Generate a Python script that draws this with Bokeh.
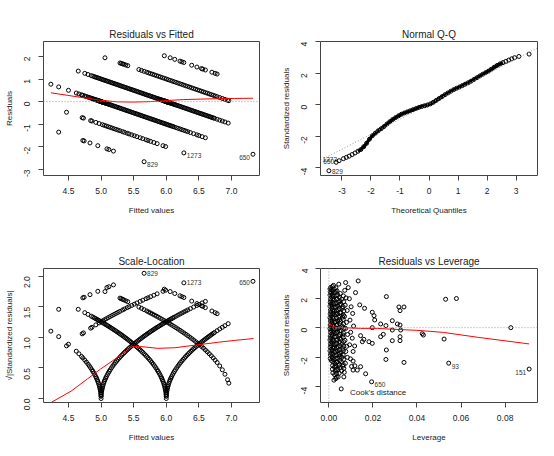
import math
from bokeh.plotting import figure
from bokeh.layouts import column, row
from bokeh.models import Range1d, FixedTicker, NumeralTickFormatter, Span, Slope, Legend, LegendItem
from bokeh.core.properties import value
from bokeh.embed import file_html
from bokeh.resources import INLINE

FONT = "Liberation Sans"

# ---------------- data ----------------
resid_se = 0.635  # residual standard error

# fitted values of the observations, grouped by observed quality
fit_q3 = [4.35, 4.72, 4.74, 4.83, 4.95, 5.09, 5.12, 5.19, 5.66]
fit_q4 = [4.47, 4.71, 4.73, 4.84, 4.86, 4.92, 4.97, 5.02, 5.05, 5.08, 5.11, 5.14, 5.17, 5.20,
          5.23, 5.26, 5.29, 5.33, 5.36, 5.40, 5.43, 5.47, 5.51, 5.55, 5.60, 5.64, 5.69, 5.72,
          5.76, 5.81, 5.86, 5.95, 5.99, 6.27]
fit_q5 = [4.23, 4.35, 4.50, 4.62, 4.66, 4.70, 4.72,
          4.75, 4.775, 4.80, 4.82, 4.84, 4.86, 4.875, 4.89, 4.905, 4.92, 4.93, 4.94, 4.95, 4.96,
          4.968, 4.975, 4.981, 4.986, 4.99, 4.994, 4.997, 4.999, 5.0, 5.001, 5.003, 5.006, 5.01,
          5.014, 5.019, 5.025, 5.032, 5.04, 5.05, 5.06, 5.07, 5.08, 5.095, 5.11, 5.125, 5.14,
          5.16, 5.18, 5.20, 5.22, 5.24, 5.26, 5.28, 5.30, 5.32, 5.34, 5.36, 5.38, 5.40, 5.42,
          5.44, 5.46, 5.48, 5.50, 5.52, 5.54, 5.56, 5.58, 5.60, 5.62, 5.64, 5.66, 5.68, 5.70,
          5.72, 5.74, 5.76, 5.78, 5.80, 5.82, 5.84, 5.86, 5.88, 5.90, 5.92, 5.94, 5.96, 5.98,
          6.00, 6.02, 6.04, 6.06, 6.08, 6.10, 6.12, 6.15, 6.18, 6.21, 6.24, 6.27, 6.30, 6.33,
          6.37, 6.42, 6.47, 6.50, 6.55, 6.60, 7.33]
fit_q6 = [4.65, 4.75, 4.80,
          4.85, 4.875, 4.90, 4.92, 4.94, 4.96, 4.98, 5.00, 5.02, 5.04, 5.06, 5.08, 5.10, 5.12,
          5.14, 5.16, 5.18, 5.20, 5.22, 5.24, 5.26, 5.28, 5.30, 5.32, 5.34, 5.36, 5.38, 5.40,
          5.42, 5.44, 5.46, 5.48, 5.50, 5.52, 5.54, 5.56, 5.58, 5.60, 5.62, 5.64, 5.66, 5.68,
          5.70, 5.72, 5.74, 5.76, 5.78, 5.80, 5.82, 5.84, 5.86, 5.875, 5.89, 5.905, 5.92, 5.93,
          5.94, 5.95, 5.96, 5.968, 5.975, 5.981, 5.986, 5.99, 5.994, 5.997, 5.999, 6.0, 6.001,
          6.003, 6.006, 6.01, 6.014, 6.019, 6.025, 6.032, 6.04, 6.05, 6.06, 6.07, 6.08, 6.095,
          6.11, 6.125, 6.14, 6.16, 6.18, 6.20, 6.22, 6.24, 6.26, 6.28, 6.30, 6.32, 6.34, 6.36,
          6.38, 6.40, 6.42, 6.44, 6.46, 6.48, 6.50, 6.52, 6.54, 6.56, 6.58, 6.60, 6.62, 6.64,
          6.66, 6.68, 6.70, 6.72, 6.74,
          6.78, 6.82, 6.86, 6.90, 6.95]
fit_q7 = [5.06, 5.29, 5.31, 5.33, 5.35, 5.38, 5.41, 5.58, 5.62, 5.66, 5.70, 5.73, 5.76, 5.79,
          5.82, 5.85, 5.88, 5.91, 5.94, 5.97, 6.00, 6.03, 6.06, 6.09, 6.12, 6.15, 6.18, 6.21,
          6.24, 6.27, 6.30, 6.33, 6.36, 6.39, 6.42, 6.45, 6.48, 6.51, 6.54, 6.57, 6.60, 6.63,
          6.66, 6.69, 6.72, 6.75, 6.78, 6.82, 6.86, 6.90, 6.94, 6.96]
fit_q8 = [5.97, 6.06, 6.13, 6.21, 6.24, 6.27, 6.39, 6.47, 6.54, 6.56, 6.60, 6.70, 6.75, 6.78]
quality_groups = [(3, fit_q3), (4, fit_q4), (5, fit_q5), (6, fit_q6), (7, fit_q7), (8, fit_q8)]

# labelled observations (residuals vs fitted / scale-location)
id_labels = ["829", "1273", "650"]
id_fit = [5.66, 6.27, 7.33]
id_quality = [3, 4, 5]

# smoother lines
smooth_rf_x = [4.23, 4.48, 4.73, 4.99, 5.25, 5.50, 5.76, 6.01, 6.27, 6.53, 6.78, 7.05, 7.33]
smooth_rf_y = [0.39, 0.28, 0.17, 0.06, -0.01, -0.02, 0.00, 0.05, 0.09, 0.11, 0.13, 0.14, 0.15]
smooth_sl_x = [4.24, 4.54, 4.79, 4.99, 5.25, 5.48, 5.60, 5.87, 6.13, 6.50, 6.80, 7.05, 7.34]
smooth_sl_y = [-0.06, 0.12, 0.32, 0.48, 0.67, 0.85, 0.85, 0.82, 0.83, 0.88, 0.92, 0.95, 0.98]

# Normal Q-Q
qq_theo = [-3.45, -3.2, -3.1, -2.95, -2.85, -2.75, -2.65, -2.55, -2.45, -2.35, -2.25, -2.15,
           -2.05, -1.95, -1.85, -1.75, -1.65, -1.55, -1.45, -1.35, -1.25, -1.15, -1.05, -0.95,
           -0.85, -0.75, -0.65, -0.55, -0.45, -0.35, -0.25, -0.15, -0.05, 0.05, 0.15, 0.25,
           0.35, 0.45, 0.55, 0.65, 0.75, 0.85, 0.95, 1.05, 1.15, 1.25, 1.35, 1.45, 1.55, 1.65,
           1.75, 1.85, 1.95, 2.05, 2.15, 2.25, 2.35, 2.45, 2.55, 2.65, 2.75, 2.85, 2.95, 3.1, 3.45]
qq_std = [-4.19, -3.65, -3.55, -3.42, -3.34, -3.26, -3.16, -3.06, -2.95, -2.84, -2.66, -2.44,
          -2.18, -1.96, -1.80, -1.65, -1.52, -1.38, -1.22, -1.07, -0.93, -0.81, -0.70, -0.60,
          -0.52, -0.45, -0.38, -0.31, -0.24, -0.17, -0.11, -0.06, -0.01, 0.06, 0.16, 0.28,
          0.40, 0.52, 0.64, 0.75, 0.86, 0.96, 1.05, 1.13, 1.22, 1.31, 1.40, 1.50, 1.61, 1.72,
          1.83, 1.94, 2.04, 2.14, 2.26, 2.39, 2.50, 2.60, 2.68, 2.76, 2.84, 2.92, 2.99, 3.07, 3.22]
qq_line_slope = 0.955
qq_line_intercept = 0.045
qq_id_labels_right = ["829"]
qq_id_right_x = [-3.45]
qq_id_right_y = [-4.19]
qq_id_labels_left = ["650", "1273"]
qq_id_left_x = [-3.2, -3.1]
qq_id_left_y = [-3.65, -3.55]

# Residuals vs Leverage: (leverage, standardized residual)
lev_points = [
    (0.0008, 2.72), (0.0011, 2.55), (0.0009, 2.33), (0.0012, 2.08), (0.0008, 1.82), (0.0010, 1.57),
    (0.0013, 1.31), (0.0009, 1.06), (0.0011, 0.81), (0.0008, 0.56), (0.0012, 0.31), (0.0010, 0.06),
    (0.0009, -0.19), (0.0013, -0.44), (0.0008, -0.70), (0.0011, -0.96), (0.0009, -1.21), (0.0012, -1.46),
    (0.0010, -1.72), (0.0014, -1.97), (0.0011, -2.22),
    (0.0021, 2.86), (0.0024, 2.62), (0.0027, 2.37), (0.0020, 2.12), (0.0025, 1.86), (0.0022, 1.61),
    (0.0028, 1.36), (0.0023, 1.12), (0.0026, 0.86), (0.0021, 0.61), (0.0027, 0.36), (0.0024, 0.11),
    (0.0022, -0.14), (0.0028, -0.39), (0.0025, -0.64), (0.0021, -0.90), (0.0026, -1.15), (0.0023, -1.40),
    (0.0028, -1.66), (0.0024, -1.91), (0.0022, -2.16), (0.0027, -2.41), (0.0025, -2.67), (0.0029, -2.92),
    (0.0026, -3.18), (0.0031, -3.45),
    (0.0037, 2.48), (0.0041, 2.21), (0.0036, 1.96), (0.0044, 1.71), (0.0039, 1.45), (0.0042, 1.20),
    (0.0037, 0.95), (0.0045, 0.70), (0.0040, 0.45), (0.0036, 0.20), (0.0043, -0.05), (0.0038, -0.30),
    (0.0045, -0.56), (0.0040, -0.81), (0.0036, -1.06), (0.0043, -1.31), (0.0039, -1.56), (0.0046, -1.82),
    (0.0041, -2.07), (0.0037, -2.32), (0.0044, -2.57), (0.0040, -2.83), (0.0047, -3.08), (0.0042, -3.34),
    (0.0052, 2.31), (0.0058, 1.92), (0.0054, 1.61), (0.0061, 1.30), (0.0055, 1.00), (0.0063, 0.71),
    (0.0053, 0.41), (0.0060, 0.10), (0.0056, -0.21), (0.0064, -0.50), (0.0054, -0.80), (0.0059, -1.10),
    (0.0062, -1.41), (0.0055, -1.70), (0.0060, -2.01), (0.0057, -2.31), (0.0063, -2.61), (0.0058, -2.92),
    (0.0072, 2.52), (0.0078, 2.01), (0.0074, 1.52), (0.0083, 1.16), (0.0071, 0.76), (0.0080, 0.36),
    (0.0076, -0.05), (0.0085, -0.46), (0.0073, -0.86), (0.0081, -1.26), (0.0077, -1.61), (0.0084, -2.01),
    (0.0075, -2.41), (0.0070, -3.02),
    (0.0093, 1.96), (0.0101, 1.41), (0.0108, 0.96), (0.0096, 0.51), (0.0112, 0.11), (0.0099, -0.31),
    (0.0106, -0.71), (0.0094, -1.16), (0.0110, -1.61), (0.0098, -2.11), (0.0103, -2.62),
    (0.0133, 3.16), (0.0076, 3.05), (0.0045, 2.94), (0.0088, 2.71), (0.0121, 2.37), (0.0261, 2.10),
    (0.0530, 1.92), (0.0579, 1.97), (0.0140, 1.54), (0.0162, 1.31), (0.0318, 1.40), (0.0341, 1.40),
    (0.0323, 1.15), (0.0197, 1.04), (0.0205, 0.81), (0.0208, 0.52), (0.0235, 0.25), (0.0288, 0.47),
    (0.0311, 0.25), (0.0323, 0.18), (0.0259, 0.14), (0.0197, 0.00), (0.0826, 0.00), (0.0288, -0.16),
    (0.0326, -0.16), (0.0424, -0.41), (0.0429, -0.50), (0.0235, -0.61), (0.0247, -0.45), (0.0288, -0.88),
    (0.0323, -0.61), (0.0323, -0.88), (0.0523, -0.77), (0.0144, -0.54), (0.0159, -0.79), (0.0152, -0.95),
    (0.0182, -0.95), (0.0197, -1.06), (0.0117, -1.24), (0.0261, -1.51), (0.0259, -2.15), (0.0341, -2.35),
    (0.0544, -2.40), (0.0909, -2.80), (0.0110, -2.26), (0.0118, -2.58), (0.0110, -2.87), (0.0129, -2.87),
    (0.0144, -2.64), (0.0167, -3.12), (0.0194, -3.66), (0.0068, -3.33), (0.0056, -4.14), (0.0023, -3.55),
]
# the dense core of the cloud near zero leverage
lev_core = [
    (0.0005, 2.62), (0.0006, 2.44), (0.0005, 2.20), (0.0007, 1.95), (0.0006, 1.70), (0.0005, 1.45),
    (0.0007, 1.18), (0.0006, 0.93), (0.0005, 0.68), (0.0007, 0.43), (0.0006, 0.18), (0.0005, -0.07),
    (0.0007, -0.32), (0.0006, -0.57), (0.0005, -0.83), (0.0007, -1.08), (0.0006, -1.33), (0.0005, -1.58),
    (0.0007, -1.84), (0.0006, -2.09),
    (0.0016, 2.78), (0.0017, 2.48), (0.0015, 2.20), (0.0018, 1.96), (0.0016, 1.70), (0.0015, 1.44),
    (0.0017, 1.19), (0.0018, 0.94), (0.0016, 0.69), (0.0015, 0.44), (0.0017, 0.19), (0.0016, -0.06),
    (0.0018, -0.31), (0.0015, -0.56), (0.0017, -0.81), (0.0016, -1.06), (0.0018, -1.31), (0.0015, -1.56),
    (0.0017, -1.81), (0.0016, -2.06), (0.0018, -2.31), (0.0017, -2.56), (0.0016, -2.81), (0.0018, -3.06),
    (0.0032, 2.70), (0.0031, 2.43), (0.0033, 2.17), (0.0034, 1.92), (0.0032, 1.66), (0.0031, 1.41),
    (0.0033, 1.16), (0.0032, 0.91), (0.0034, 0.66), (0.0031, 0.41), (0.0033, 0.16), (0.0032, -0.09),
    (0.0034, -0.34), (0.0031, -0.59), (0.0033, -0.84), (0.0032, -1.09), (0.0034, -1.34), (0.0031, -1.59),
    (0.0033, -1.84), (0.0032, -2.09), (0.0034, -2.34), (0.0031, -2.59), (0.0033, -2.84), (0.0035, -3.10),
    (0.0034, -3.35),
    (0.0048, 2.05), (0.0050, 1.80), (0.0049, 1.55), (0.0048, 1.28), (0.0050, 1.03), (0.0049, 0.78),
    (0.0048, 0.53), (0.0050, 0.28), (0.0049, 0.03), (0.0048, -0.22), (0.0050, -0.47), (0.0049, -0.72),
    (0.0048, -0.97), (0.0050, -1.22), (0.0049, -1.47), (0.0048, -1.72), (0.0050, -1.97), (0.0049, -2.22),
    (0.0048, -2.47), (0.0050, -2.72),
    (0.0066, 2.15), (0.0067, 1.75), (0.0065, 1.42), (0.0068, 1.13), (0.0066, 0.85), (0.0065, 0.55),
    (0.0067, 0.25), (0.0068, -0.05), (0.0066, -0.35), (0.0065, -0.65), (0.0067, -0.95), (0.0068, -1.25),
    (0.0066, -1.55), (0.0065, -1.85), (0.0067, -2.15), (0.0066, -2.50), (0.0068, -2.75),
]
lev_id_right = ["650", "93"]
lev_id_right_x = [0.0194, 0.0544]
lev_id_right_y = [-3.66, -2.40]
lev_id_left = ["151"]
lev_id_left_x = [0.0909]
lev_id_left_y = [-2.80]
smooth_lev_x = [0.0, 0.0015, 0.003, 0.0068, 0.0144, 0.022, 0.0295, 0.040, 0.052, 0.068, 0.0909]
smooth_lev_y = [0.29, 0.12, 0.02, 0.0, -0.05, -0.05, -0.11, -0.18, -0.32, -0.66, -1.10]

# ---------------- derived values ----------------
fitted = []
resid = []
for q, fl in quality_groups:
    for f in fl:
        fitted.append(f)
        resid.append(q - f)
sqrt_std = [math.sqrt(abs(r) / resid_se) for r in resid]
id_resid = [q - f for q, f in zip(id_quality, id_fit)]
id_sqrt = [math.sqrt(abs(r) / resid_se) for r in id_resid]
lev_x = [pt[0] for pt in lev_points + lev_core]
lev_y = [pt[1] for pt in lev_points + lev_core]

TXT = "#222222"
BOX = "#444444"


def panel(width, height, borders, xr, yr, title, xlab, ylab, xticks, yticks, xfmt, yfmt):
    bl, br, bt, bb = borders
    p = figure(width=width, height=height, x_range=Range1d(*xr), y_range=Range1d(*yr),
               title=title, output_backend="svg", toolbar_location=None,
               min_border_left=bl, min_border_right=br, min_border_top=bt, min_border_bottom=bb)
    p.title.align = "center"
    p.title.text_font = FONT
    p.title.text_font_size = "10px"
    p.title.text_font_style = "normal"
    p.title.text_color = TXT
    p.title.standoff = 3
    p.grid.visible = False
    p.outline_line_color = BOX
    p.outline_line_width = 1
    p.xaxis.ticker = FixedTicker(ticks=xticks)
    p.yaxis.ticker = FixedTicker(ticks=yticks)
    p.xaxis.formatter = NumeralTickFormatter(format=xfmt)
    p.yaxis.formatter = NumeralTickFormatter(format=yfmt)
    for ax in (p.xaxis[0], p.yaxis[0]):
        ax.axis_line_color = None
        ax.major_tick_line_color = BOX
        ax.major_tick_out = 5
        ax.major_tick_in = 0
        ax.minor_tick_line_color = None
        ax.major_label_text_font = FONT
        ax.major_label_text_font_size = "8.5px"
        ax.major_label_text_color = TXT
        ax.axis_label_text_font = FONT
        ax.axis_label_text_font_size = "8px"
        ax.axis_label_text_font_style = "normal"
        ax.axis_label_text_color = TXT
    p.xaxis.axis_label = xlab
    p.yaxis.axis_label = ylab
    p.xaxis.major_label_standoff = 7
    p.xaxis.axis_label_standoff = 9
    p.yaxis.major_label_orientation = math.pi / 2
    p.yaxis.major_label_standoff = 11
    p.yaxis.axis_label_standoff = 5
    return p


def pts(p, x, y):
    p.scatter(x=x, y=y, marker="circle", size=4, fill_color=None, line_color="black", line_width=1)


def ids(p, x, y, labels, align, xoff, yoff):
    p.text(x=x, y=y, text=labels, text_align=align, text_baseline="middle", x_offset=xoff,
           y_offset=yoff, text_font=value(FONT), text_font_size="6.5px", text_color="#333333")


def dotted(p, loc, dim):
    p.add_layout(Span(location=loc, dimension=dim, line_color="#9a9a9a", line_dash="1 2", line_width=1))


W1, W2 = 261, 285
H1, H2 = 228, 220
LEFT_B = (43, 2, 41, 53)
RIGHT_B = (59, 9, 41, 53)
LEFT_B2 = (43, 2, 40, 46)
RIGHT_B2 = (59, 9, 40, 46)

# Residuals vs Fitted
p1 = panel(W1, H1, LEFT_B, (4.117, 7.43), (-3.27, 2.66), "Residuals vs Fitted", "Fitted values",
           "Residuals", [4.5, 5.0, 5.5, 6.0, 6.5, 7.0], [-3, -2, -1, 0, 1, 2], "0.0", "0")
dotted(p1, 0, "width")
pts(p1, fitted, resid)
p1.line(x=smooth_rf_x, y=smooth_rf_y, line_color="red", line_width=1)
ids(p1, id_fit[:2], id_resid[:2], id_labels[:2], "left", 3, 3)
ids(p1, id_fit[2:], id_resid[2:], id_labels[2:], "right", -3, 3)

# Normal Q-Q
p2 = panel(W2, H1, RIGHT_B, (-3.74, 3.74), (-4.49, 4.02), "Normal Q-Q", "Theoretical Quantiles",
           "Standardized residuals", [-3, -2, -1, 0, 1, 2, 3], [-4, -2, 0, 2, 4], "0", "0")
p2.add_layout(Slope(gradient=qq_line_slope, y_intercept=qq_line_intercept, line_color="#9a9a9a",
                    line_dash="1 2", line_width=1))
p2.line(x=qq_theo[8:-6], y=qq_std[8:-6], line_color="black", line_width=3)
pts(p2, qq_theo, qq_std)
ids(p2, qq_id_right_x, qq_id_right_y, qq_id_labels_right, "left", 3, 1)
ids(p2, qq_id_left_x, qq_id_left_y, qq_id_labels_left, "right", -2, -1)

# Scale-Location
p3 = panel(W1, H2, LEFT_B2, (4.117, 7.43), (-0.065, 2.125), "Scale-Location", "Fitted values",
           "\u221a|Standardized residuals|", [4.5, 5.0, 5.5, 6.0, 6.5, 7.0],
           [0.0, 0.5, 1.0, 1.5, 2.0], "0.0", "0.0")
pts(p3, fitted, sqrt_std)
p3.line(x=smooth_sl_x, y=smooth_sl_y, line_color="red", line_width=1)
ids(p3, id_fit[:2], id_sqrt[:2], id_labels[:2], "left", 3, 0)
ids(p3, id_fit[2:], id_sqrt[2:], id_labels[2:], "right", -3, 1)

# Residuals vs Leverage
p4 = panel(W2, H2, RIGHT_B2, (-0.0038, 0.0947), (-5.06, 4.0), "Residuals vs Leverage", "Leverage",
           "Standardized residuals", [0.0, 0.02, 0.04, 0.06, 0.08], [-4, -2, 0, 2, 4], "0.00", "0")
dotted(p4, 0, "width")
dotted(p4, 0, "height")
pts(p4, lev_x, lev_y)
p4.line(x=smooth_lev_x, y=smooth_lev_y, line_color="red", line_width=1)
ids(p4, lev_id_right_x, lev_id_right_y, lev_id_right, "left", 3, 3)
ids(p4, lev_id_left_x, lev_id_left_y, lev_id_left, "right", -3, 3)
cook = p4.line(x=[], y=[], line_color="red", line_dash="3 2", line_width=1)
leg = Legend(items=[LegendItem(label="Cook's distance", renderers=[cook])], location=(8, 4),
             border_line_color=None, background_fill_alpha=0, padding=0, margin=0, spacing=0,
             label_text_font=FONT, label_text_font_size="8px", label_text_color=TXT,
             glyph_width=13, glyph_height=12, label_height=12, label_standoff=9)
p4.add_layout(leg)

layout = column(row(p1, p2), row(p3, p4))
open("out.html", "w").write(file_html(layout, INLINE))
